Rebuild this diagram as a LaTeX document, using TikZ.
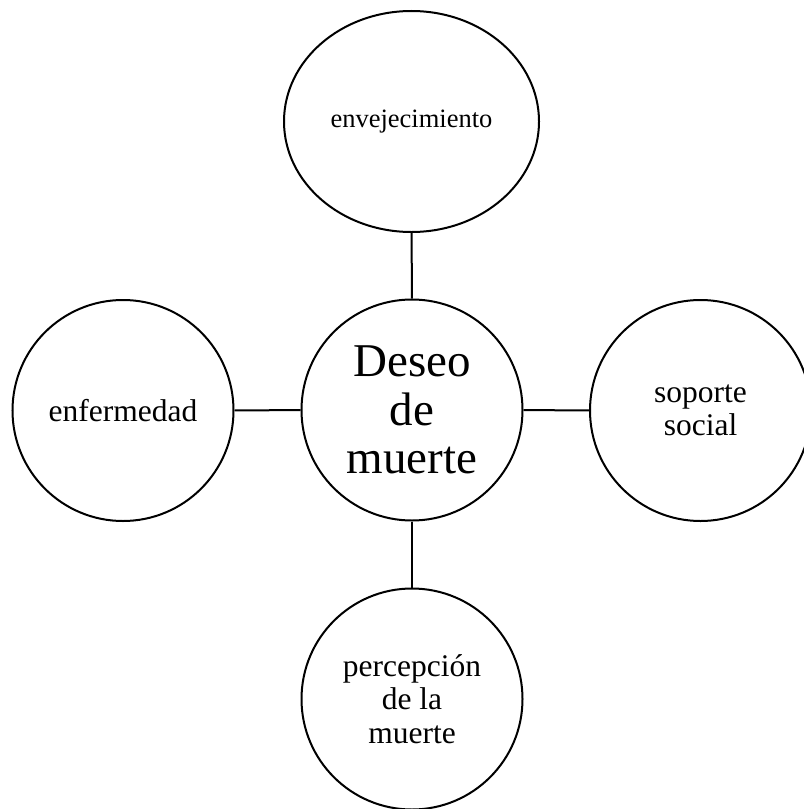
\documentclass[tikz,border=0pt]{standalone}
\usepackage{fontspec}
\setmainfont{Liberation Serif}
\usetikzlibrary{shapes.geometric}
\begin{document}
\begin{tikzpicture}[x=1bp,y=-1bp,
  bubble/.style={draw=black, line width=2bp, circle, minimum size=221bp, inner sep=0pt, align=center,
    font=\fontsize{31.5bp}{33.3bp}\selectfont},
  link/.style={draw=black, line width=2bp}]
\useasboundingbox (0,0) rectangle (804,809);
\node[bubble, font=\fontsize{47bp}{48.5bp}\selectfont] (c) at (412,410) {Deseo\\de\\muerte};
\node[draw=black, line width=2bp, ellipse, minimum width=255bp, minimum height=221bp, inner sep=0pt,
  font=\fontsize{26.5bp}{30bp}\selectfont] (t) at (411.5,121.5) {envejecimiento};
\node[bubble] (l) at (123,410.5) {enfermedad};
\node[bubble] (r) at (700.5,410.5) {soporte\\social};
\node[bubble] (b) at (412,699) {percepción\\de la\\muerte};
\draw[link] (t) -- (c);
\draw[link] (l) -- (c);
\draw[link] (c) -- (r);
\draw[link] (c) -- (b);
\end{tikzpicture}
\end{document}
